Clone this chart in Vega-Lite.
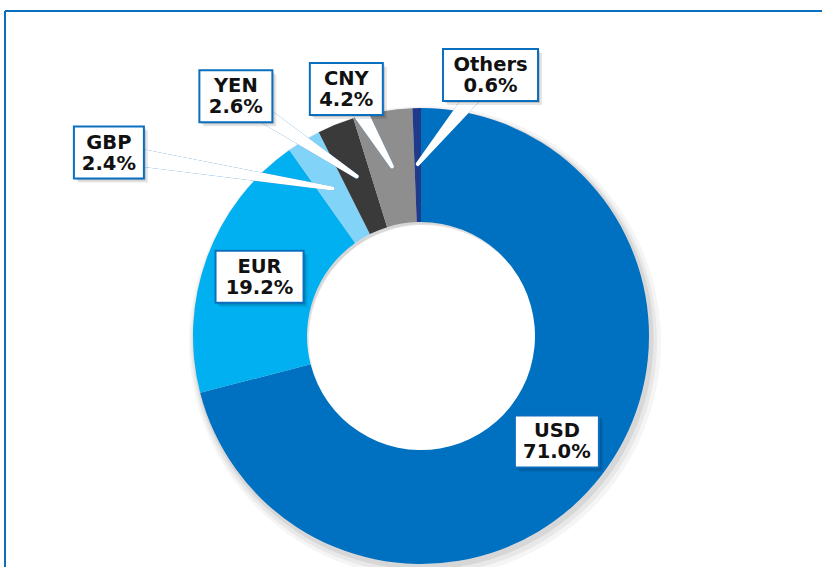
{
  "$schema": "https://vega.github.io/schema/vega-lite/v6.json",
  "width": 817,
  "height": 556,
  "autosize": "none",
  "padding": {"left": 5, "top": 11, "right": 0, "bottom": 0},
  "background": "white",
  "config": {"view": {"stroke": null}},
  "datasets": {
    "shares": [
      {"currency": "USD", "share": 71.0, "order": 1},
      {"currency": "EUR", "share": 19.2, "order": 2},
      {"currency": "GBP", "share": 2.4, "order": 3},
      {"currency": "YEN", "share": 2.6, "order": 4},
      {"currency": "CNY", "share": 4.2, "order": 5},
      {"currency": "Others", "share": 0.6, "order": 6}
    ]
  },
  "data": {"name": "shares"},
  "layer": [
    {
      "transform": [{"filter": "datum.order == 1"}],
      "mark": {"type": "rule", "color": "#0A6FBF", "strokeWidth": 2},
      "encoding": {
        "y": {"datum": 325, "type": "quantitative", "scale": {"domain": [-231, 325], "nice": false, "zero": false}, "axis": null}
      }
    },
    {
      "transform": [{"filter": "datum.order == 1"}],
      "mark": {"type": "rule", "color": "#0A6FBF", "strokeWidth": 2},
      "encoding": {
        "x": {"datum": -416, "type": "quantitative", "scale": {"domain": [-416, 401], "nice": false, "zero": false}, "axis": null}
      }
    },
    {
      "mark": {"type": "arc", "outerRadius": 236, "innerRadius": 118, "color": "#000000", "opacity": 0.04, "xOffset": 4, "yOffset": 6},
      "encoding": {
        "x": {"datum": 0, "type": "quantitative", "scale": {"domain": [-416, 401], "nice": false, "zero": false}, "axis": null},
        "y": {"datum": 0, "type": "quantitative", "scale": {"domain": [-231, 325], "nice": false, "zero": false}, "axis": null},
        "theta": {"field": "share", "type": "quantitative"},
        "order": {"field": "order", "type": "quantitative"}
      }
    },
    {
      "mark": {"type": "arc", "outerRadius": 233, "innerRadius": 116, "color": "#000000", "opacity": 0.05, "xOffset": 3, "yOffset": 5},
      "encoding": {
        "x": {"datum": 0, "type": "quantitative", "scale": {"domain": [-416, 401], "nice": false, "zero": false}, "axis": null},
        "y": {"datum": 0, "type": "quantitative", "scale": {"domain": [-231, 325], "nice": false, "zero": false}, "axis": null},
        "theta": {"field": "share", "type": "quantitative"},
        "order": {"field": "order", "type": "quantitative"}
      }
    },
    {
      "mark": {"type": "arc", "outerRadius": 230.5, "innerRadius": 114, "color": "#000000", "opacity": 0.07, "xOffset": 2, "yOffset": 3},
      "encoding": {
        "x": {"datum": 0, "type": "quantitative", "scale": {"domain": [-416, 401], "nice": false, "zero": false}, "axis": null},
        "y": {"datum": 0, "type": "quantitative", "scale": {"domain": [-231, 325], "nice": false, "zero": false}, "axis": null},
        "theta": {"field": "share", "type": "quantitative"},
        "order": {"field": "order", "type": "quantitative"}
      }
    },
    {
      "mark": {"type": "arc", "outerRadius": 228, "innerRadius": 114},
      "encoding": {
        "x": {"datum": 0, "type": "quantitative", "scale": {"domain": [-416, 401], "nice": false, "zero": false}, "axis": null},
        "y": {"datum": 0, "type": "quantitative", "scale": {"domain": [-231, 325], "nice": false, "zero": false}, "axis": null},
        "theta": {"field": "share", "type": "quantitative"},
        "order": {"field": "order", "type": "quantitative"},
        "color": {
          "field": "currency",
          "type": "nominal",
          "scale": {
            "domain": ["USD", "EUR", "GBP", "YEN", "CNY", "Others"],
            "range": ["#0070C0", "#00B0F0", "#82D3F8", "#3A3A3A", "#8E8E8E", "#1F3A8A"]
          },
          "legend": null
        }
      }
    },
    {
      "transform": [
        {"window": [{"op": "sum", "field": "share", "as": "cumEnd"}], "sort": [{"field": "order", "order": "ascending"}], "frame": [null, 0]},
        {"calculate": "(datum.cumEnd - datum.share / 2) * PI / 50", "as": "mid"},
        {"calculate": "172 * sin(datum.mid)", "as": "tx"},
        {"calculate": "172 * cos(datum.mid)", "as": "ty"},
        {"calculate": "datum.currency == 'GBP' ? -28.6 : datum.currency == 'YEN' ? -15.7 : datum.currency == 'CNY' ? -7.1 : datum.currency == 'Others' ? 16 : 0", "as": "shiftDeg"},
        {"calculate": "datum.currency == 'GBP' ? 362 : datum.currency == 'YEN' ? 303 : datum.currency == 'CNY' ? 258 : datum.currency == 'Others' ? 270 : 172", "as": "lr"},
        {"calculate": "datum.lr * sin(datum.mid + datum.shiftDeg * PI / 180)", "as": "lx"},
        {"calculate": "datum.lr * cos(datum.mid + datum.shiftDeg * PI / 180)", "as": "ly"},
        {"calculate": "datum.currency == 'USD' ? 84 : datum.currency == 'EUR' ? 88 : datum.currency == 'GBP' ? 70 : datum.currency == 'Others' ? 95 : 73", "as": "bw"},
        {"calculate": "datum.lx - datum.bw / 2", "as": "bx1"},
        {"calculate": "datum.lx + datum.bw / 2", "as": "bx2"},
        {"calculate": "datum.ly - 26", "as": "by1"},
        {"calculate": "datum.ly + 26", "as": "by2"},
        {"calculate": "datum.currency + '\\n' + format(datum.share, '.1f') + '%'", "as": "label"}
      ],
      "layer": [
        {
          "transform": [
            {"filter": "datum.lr > 200"},
            {"calculate": "0", "as": "s0"},
            {"calculate": "1", "as": "s1"},
            {"fold": ["s0", "s1"], "as": ["end", "t"]},
            {"calculate": "datum.t == 0 ? datum.lx : datum.tx", "as": "px"},
            {"calculate": "datum.t == 0 ? datum.ly : datum.ty", "as": "py"}
          ],
          "layer": [
            {
              "mark": {"type": "trail", "color": "#0A6FBF"},
              "encoding": {
                "x": {"field": "px", "type": "quantitative", "scale": {"domain": [-416, 401], "nice": false, "zero": false}, "axis": null},
                "y": {"field": "py", "type": "quantitative", "scale": {"domain": [-231, 325], "nice": false, "zero": false}, "axis": null},
                "size": {"field": "t", "type": "quantitative", "scale": {"domain": [0, 1], "range": [20, 4]}, "legend": null},
                "detail": {"field": "currency", "type": "nominal"},
                "order": {"field": "t", "type": "quantitative"}
              }
            },
            {
              "mark": {"type": "trail", "color": "#FFFFFF"},
              "encoding": {
                "x": {"field": "px", "type": "quantitative", "scale": {"domain": [-416, 401], "nice": false, "zero": false}, "axis": null},
                "y": {"field": "py", "type": "quantitative", "scale": {"domain": [-231, 325], "nice": false, "zero": false}, "axis": null},
                "size": {"field": "t", "type": "quantitative", "scale": {"domain": [0, 1], "range": [14, 0.5]}, "legend": null},
                "detail": {"field": "currency", "type": "nominal"},
                "order": {"field": "t", "type": "quantitative"}
              }
            }
          ]
        },
        {
          "mark": {"type": "rect", "color": "#000000", "opacity": 0.1, "xOffset": 4, "x2Offset": 4, "yOffset": 4, "y2Offset": 4},
          "encoding": {
            "x": {"field": "bx1", "type": "quantitative", "scale": {"domain": [-416, 401], "nice": false, "zero": false}, "axis": null},
            "x2": {"field": "bx2"},
            "y": {"field": "by1", "type": "quantitative", "scale": {"domain": [-231, 325], "nice": false, "zero": false}, "axis": null},
            "y2": {"field": "by2"}
          }
        },
        {
          "mark": {"type": "rect", "color": "#000000", "opacity": 0.14, "xOffset": 2, "x2Offset": 2, "yOffset": 2, "y2Offset": 2},
          "encoding": {
            "x": {"field": "bx1", "type": "quantitative", "scale": {"domain": [-416, 401], "nice": false, "zero": false}, "axis": null},
            "x2": {"field": "bx2"},
            "y": {"field": "by1", "type": "quantitative", "scale": {"domain": [-231, 325], "nice": false, "zero": false}, "axis": null},
            "y2": {"field": "by2"}
          }
        },
        {
          "mark": {"type": "rect", "fill": "#FFFFFF", "stroke": "#0A6FBF", "strokeWidth": 2},
          "encoding": {
            "x": {"field": "bx1", "type": "quantitative", "scale": {"domain": [-416, 401], "nice": false, "zero": false}, "axis": null},
            "x2": {"field": "bx2"},
            "y": {"field": "by1", "type": "quantitative", "scale": {"domain": [-231, 325], "nice": false, "zero": false}, "axis": null},
            "y2": {"field": "by2"}
          }
        },
        {
          "mark": {"type": "text", "font": "DejaVu Sans", "fontWeight": "bold", "fontSize": 19.5, "lineHeight": 21, "lineBreak": "\n", "align": "center", "baseline": "middle", "dy": -10, "color": "#111111"},
          "encoding": {
            "x": {"field": "lx", "type": "quantitative", "scale": {"domain": [-416, 401], "nice": false, "zero": false}, "axis": null},
            "y": {"field": "ly", "type": "quantitative", "scale": {"domain": [-231, 325], "nice": false, "zero": false}, "axis": null},
            "text": {"field": "label", "type": "nominal"}
          }
        }
      ]
    }
  ]
}
